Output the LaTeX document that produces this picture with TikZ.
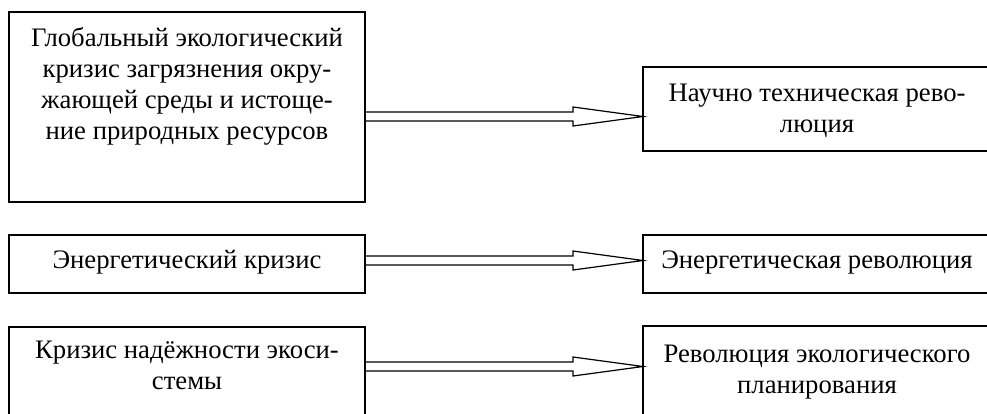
\documentclass[tikz,border=0pt]{standalone}
\usepackage{fontspec}
\setmainfont{Liberation Serif}
\usetikzlibrary{calc}
\newcommand\blockarr[3]{%
  \draw[barrow] ($(#1.east |- 0,#3)+(0,-4.5)$)
    -- ($(#2.west |- 0,#3)+(-70,-4.5)$)
    -- ($(#2.west |- 0,#3)+(-70,-9.5)$)
    -- (#2.west |- 0,#3)
    -- ($(#2.west |- 0,#3)+(-70,9.5)$)
    -- ($(#2.west |- 0,#3)+(-70,4.5)$)
    -- ($(#1.east |- 0,#3)+(0,4.5)$);}
\begin{document}
\begin{tikzpicture}[x=1pt,y=-1pt,
  box/.style={draw,line width=1.4pt,inner sep=0pt,outer sep=0pt},
  txt/.style={font=\fontsize{26.7}{31}\selectfont,inner sep=0pt,anchor=base},
  barrow/.style={draw,line width=1.2pt,line join=miter}]
\useasboundingbox (0,0) rectangle (987,414);
\clip (0,0) rectangle (987,414);
\fill[white] (0,0) rectangle (987,414);
% left boxes
\node[box,minimum width=356pt,minimum height=190pt] (l1) at (187,107) {};
\node[box,minimum width=356pt,minimum height=58pt] (l2) at (187,264) {};
\node[box,minimum width=356pt,minimum height=103pt] (l3) at (187,378.5) {};
% right boxes
\node[box,minimum width=348pt,minimum height=84pt] (r1) at (817,109) {};
\node[box,minimum width=348pt,minimum height=58pt] (r2) at (817,264) {};
\node[box,minimum width=348pt,minimum height=104pt] (r3) at (817,378) {};
% texts
\node[txt] (t1a) at (187,47) {Глобальный экологический};
\node[txt] (t1b) at (187,78) {кризис загрязнения окру-};
\node[txt] (t1c) at (187,109) {жающей среды и истоще-};
\node[txt] (t1d) at (187,140) {ние природных ресурсов};
\node[txt] (t2a) at (187,268) {Энергетический кризис};
\node[txt] (t3a) at (187,358) {Кризис надёжности экоси-};
\node[txt] (t3b) at (187,389) {стемы};
\node[txt] (u1a) at (817,102) {Научно техническая рево-};
\node[txt] (u1b) at (817,133) {люция};
\node[txt] (u2a) at (817,268) {Энергетическая революция};
\node[txt] (u3a) at (817,362) {Революция экологического};
\node[txt] (u3b) at (817,393) {планирования};
% arrows
\blockarr{l1}{r1}{116.5}
\blockarr{l2}{r2}{260.5}
\blockarr{l3}{r3}{366.5}
\end{tikzpicture}
\end{document}
